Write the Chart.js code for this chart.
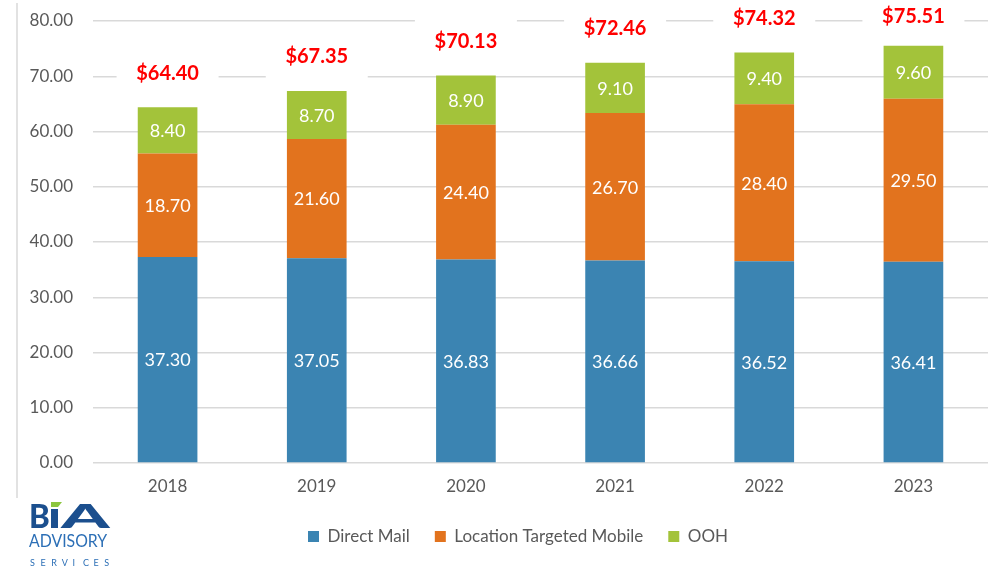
<!DOCTYPE html>
<html>
<head>
<meta charset="utf-8">
<script src="https://cdn.jsdelivr.net/npm/chart.js@4"></script>
<style>
  html, body { margin: 0; padding: 0; background: #fff; }
  #wrap { width: 988px; height: 571px; position: relative; }
</style>
</head>
<body>
<div id="wrap"><canvas id="c" width="988" height="571"></canvas></div>
<script>
const years = ['2018', '2019', '2020', '2021', '2022', '2023'];
const directMail = [37.30, 37.05, 36.83, 36.66, 36.52, 36.41];
const locationMobile = [18.70, 21.60, 24.40, 26.70, 28.40, 29.50];
const ooh = [8.40, 8.70, 8.90, 9.10, 9.40, 9.60];
const totals = [64.40, 67.35, 70.13, 72.46, 74.32, 75.51];
const yTicks = [0, 10, 20, 30, 40, 50, 60, 70, 80];

const FONT = 'Lato, "Open Sans", sans-serif';

// White value labels inside each segment, red totals above each stack
const labelPlugin = {
  id: 'stackLabels',
  afterDatasetsDraw(chart) {
    const ctx = chart.ctx;
    ctx.save();
    ctx.textAlign = 'center';
    ctx.textBaseline = 'middle';
    ctx.font = '18px ' + FONT;
    ctx.fillStyle = '#ffffff';
    chart.data.datasets.forEach((ds, di) => {
      const meta = chart.getDatasetMeta(di);
      meta.data.forEach((bar, i) => {
        const mid = (bar.y + bar.base) / 2;
        ctx.fillText(ds.data[i].toFixed(2), bar.x, mid + 1);
      });
    });
    const ys = chart.scales.y;
    const xs = chart.scales.x;
    ctx.font = 'bold 20px ' + FONT;
    totals.forEach((t, i) => {
      const x = xs.getPixelForValue(i);
      const y = Math.max(ys.getPixelForValue(t) - 34, 17);
      ctx.fillStyle = '#ffffff';
      ctx.fillRect(x - 51, y - 24, 102, 48);
      ctx.fillStyle = '#ff0000';
      ctx.fillText('$' + t.toFixed(2), x, y);
    });
    ctx.restore();
  }
};

// Nudge the legend row so it sits under the middle of the plot
const legendShift = {
  id: 'legendShift',
  afterLayout(chart) {
    const lg = chart.legend;
    if (!lg) return;
    lg.left += 24;
    lg.right += 24;
    if (lg.legendHitBoxes) lg.legendHitBoxes.forEach(b => { b.left += 24; });
  }
};

// Left border line and company mark
const framePlugin = {
  id: 'frame',
  afterDraw(chart) {
    const ctx = chart.ctx;
    ctx.save();
    ctx.strokeStyle = '#d9d9d9';
    ctx.lineWidth = 1.5;
    ctx.beginPath();
    ctx.moveTo(17, 3);
    ctx.lineTo(17, 555);
    ctx.stroke();
    ctx.fillStyle = '#ffffff';
    ctx.fillRect(14, 498, 110, 73);
    ctx.textBaseline = 'alphabetic';
    ctx.textAlign = 'left';
    ctx.fillStyle = '#1b4f8e';
    ctx.font = '900 33px ' + FONT;
    ctx.save();
    ctx.translate(29, 528);
    ctx.scale(0.95, 1);
    ctx.fillText('B', 0, 0);
    ctx.restore();
    ctx.fillRect(51, 509, 7, 19);
    ctx.save();
    ctx.translate(61, 528);
    ctx.scale(2.1, 1);
    ctx.fillText('A', 0, 0);
    ctx.restore();
    ctx.fillStyle = '#8cc63f';
    ctx.beginPath();
    ctx.moveTo(51, 507);
    ctx.lineTo(58, 507);
    ctx.lineTo(62, 502);
    ctx.lineTo(51, 502);
    ctx.closePath();
    ctx.fill();
    ctx.fillStyle = '#2c6fb6';
    ctx.save();
    ctx.translate(29, 547);
    ctx.scale(0.88, 1);
    ctx.font = '18px ' + FONT;
    ctx.fillText('ADVISORY', 0, 0);
    ctx.restore();
    ctx.font = '9px ' + FONT;
    'SERVICES'.split('').forEach((ch, k) => ctx.fillText(ch, 30 + k * 10.6, 566));
    ctx.restore();
  }
};

new Chart(document.getElementById('c'), {
  type: 'bar',
  data: {
    labels: years,
    datasets: [
      { label: 'Direct Mail', data: directMail, backgroundColor: '#3b84b2' },
      { label: 'Location Targeted Mobile', data: locationMobile, backgroundColor: '#e2731e' },
      { label: 'OOH', data: ooh, backgroundColor: '#a3c33a' }
    ]
  },
  options: {
    responsive: false,
    animation: false,
    devicePixelRatio: 1,
    layout: { padding: { left: 0, right: 0, top: 21, bottom: 16 } },
    datasets: { bar: { categoryPercentage: 1, barPercentage: 0.4 } },
    scales: {
      x: {
        stacked: true,
        grid: { display: false },
        border: { display: false },
        ticks: { color: '#595959', font: { family: FONT, size: 17 }, padding: 5 },
        afterFit(s) { s.height = 40; }
      },
      y: {
        stacked: true,
        min: 0,
        max: 80,
        afterBuildTicks(s) { s.ticks = yTicks.map(v => ({ value: v })); },
        grid: { color: '#d9d9d9', lineWidth: 1.5, drawTicks: false },
        border: { display: false },
        ticks: {
          color: '#595959',
          font: { family: FONT, size: 17 },
          padding: 20,
          callback: v => Number(v).toFixed(2)
        },
        afterFit(s) { s.width = 93; s.paddingTop = 0; s.paddingBottom = 0; }
      }
    },
    plugins: {
      legend: {
        position: 'bottom',
        labels: {
          color: '#595959',
          font: { family: FONT, size: 17 },
          boxWidth: 11,
          boxHeight: 11,
          padding: 25
        }
      },
      tooltip: { enabled: false }
    }
  },
  plugins: [labelPlugin, legendShift, framePlugin]
});
</script>
</body>
</html>
